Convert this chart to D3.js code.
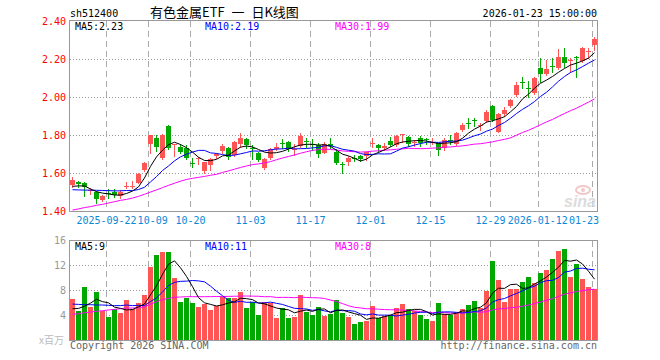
<!DOCTYPE html>
<html><head><meta charset="utf-8">
<script src="https://cdn.jsdelivr.net/npm/d3@7"></script>
<style>body{margin:0;background:#fff}svg{display:block}</style>
</head><body>
<svg id="c" width="660" height="360"></svg>
<script>
const dates = [
"2025-09-12","2025-09-15","2025-09-16","2025-09-17","2025-09-18","2025-09-19","2025-09-22","2025-09-23","2025-09-24","2025-09-25","2025-09-26","2025-09-29","2025-09-30",
"2025-10-09","2025-10-10","2025-10-13","2025-10-14","2025-10-15","2025-10-16","2025-10-17","2025-10-20","2025-10-21","2025-10-22","2025-10-23","2025-10-24","2025-10-27","2025-10-28","2025-10-29","2025-10-30","2025-10-31",
"2025-11-03","2025-11-04","2025-11-05","2025-11-06","2025-11-07","2025-11-10","2025-11-11","2025-11-12","2025-11-13","2025-11-14","2025-11-17","2025-11-18","2025-11-19","2025-11-20","2025-11-21","2025-11-24","2025-11-25","2025-11-26","2025-11-27","2025-11-28",
"2025-12-01","2025-12-02","2025-12-03","2025-12-04","2025-12-05","2025-12-08","2025-12-09","2025-12-10","2025-12-11","2025-12-12","2025-12-15","2025-12-16","2025-12-17","2025-12-18","2025-12-19","2025-12-22","2025-12-23","2025-12-24","2025-12-25","2025-12-26","2025-12-29","2025-12-30","2025-12-31",
"2026-01-05","2026-01-06","2026-01-07","2026-01-08","2026-01-09","2026-01-12","2026-01-13","2026-01-14","2026-01-15","2026-01-16","2026-01-19","2026-01-20","2026-01-21","2026-01-22","2026-01-23"];

const open  = [1.535,1.553,1.549,1.507,1.502,1.458,1.493,1.498,1.477,1.531,1.530,1.549,1.616,1.754,1.786,1.677,1.849,1.745,1.739,1.733,1.653,1.675,1.611,1.642,1.691,1.716,1.730,1.695,1.751,1.779,1.733,1.707,1.628,1.677,1.726,1.757,1.761,1.722,1.744,1.766,1.753,1.747,1.707,1.754,1.712,1.647,1.660,1.679,1.689,1.689,1.752,1.747,1.730,1.767,1.746,1.800,1.788,1.756,1.782,1.779,1.758,1.756,1.730,1.772,1.753,1.826,1.863,1.881,1.847,1.874,1.953,1.818,1.909,1.954,2.011,2.079,2.047,2.019,2.154,2.119,2.161,2.151,2.211,2.189,2.209,2.189,2.240,2.274];
const high  = [1.580,1.560,1.555,1.523,1.505,1.482,1.514,1.514,1.509,1.551,1.560,1.598,1.660,1.800,1.800,1.804,1.853,1.755,1.751,1.747,1.677,1.683,1.660,1.677,1.707,1.753,1.735,1.768,1.810,1.786,1.745,1.712,1.680,1.733,1.756,1.779,1.768,1.751,1.809,1.786,1.777,1.756,1.761,1.786,1.725,1.660,1.689,1.695,1.695,1.712,1.782,1.751,1.760,1.788,1.800,1.805,1.795,1.774,1.795,1.786,1.782,1.760,1.782,1.800,1.814,1.861,1.891,1.888,1.861,1.932,1.958,1.918,1.949,1.989,2.077,2.104,2.084,2.107,2.204,2.195,2.204,2.253,2.256,2.207,2.216,2.265,2.256,2.318];
const low   = [1.528,1.528,1.479,1.488,1.440,1.455,1.467,1.475,1.470,1.519,1.520,1.546,1.612,1.707,1.718,1.674,1.726,1.691,1.703,1.672,1.633,1.645,1.598,1.616,1.677,1.707,1.674,1.691,1.739,1.733,1.672,1.663,1.621,1.672,1.721,1.730,1.718,1.695,1.739,1.739,1.721,1.686,1.703,1.730,1.646,1.602,1.642,1.665,1.665,1.668,1.739,1.712,1.721,1.742,1.742,1.765,1.742,1.744,1.744,1.754,1.751,1.695,1.721,1.751,1.747,1.821,1.839,1.849,1.826,1.870,1.874,1.814,1.902,1.949,2.005,2.049,2.002,2.014,2.077,2.116,2.133,2.147,2.160,2.133,2.107,2.186,2.205,2.247];
const close = [1.561,1.543,1.525,1.512,1.463,1.479,1.489,1.484,1.502,1.534,1.534,1.595,1.654,1.800,1.737,1.800,1.730,1.752,1.710,1.677,1.649,1.679,1.656,1.674,1.698,1.742,1.686,1.765,1.786,1.747,1.726,1.668,1.674,1.726,1.739,1.752,1.725,1.726,1.795,1.763,1.749,1.700,1.751,1.742,1.651,1.644,1.677,1.675,1.672,1.712,1.756,1.730,1.744,1.746,1.795,1.803,1.751,1.761,1.756,1.775,1.761,1.721,1.774,1.768,1.812,1.853,1.859,1.877,1.851,1.919,1.879,1.911,1.932,1.984,2.063,2.075,2.044,2.098,2.121,2.146,2.158,2.209,2.181,2.193,2.205,2.260,2.244,2.304];
const volume = [6.56,4.64,8.48,5.28,7.68,4.64,3.68,5.0,4.32,6.4,4.96,5.92,7.2,11.68,13.6,14.08,14.08,9.92,6.08,6.72,5.92,5.28,5.76,4.8,5.44,6.88,6.72,6.7,7.68,5.12,6.08,4.0,6.08,5.92,3.52,5.12,3.52,3.68,7.2,4.48,4.0,5.28,3.9,4.16,6.4,4.32,3.68,2.56,2.88,3.04,5.44,3.52,3.84,4.0,5.12,5.76,4.96,4.64,4.0,3.36,3.04,5.92,4.16,4.0,4.32,4.96,5.6,6.24,5.12,7.84,12.64,9.6,6.08,8.16,8.16,9.28,10.08,9.12,10.72,11.2,12.96,14.24,14.56,10.08,12.16,9.76,8.48,8.16];

const ma5  = [1.530,1.532,1.532,1.516,1.502,1.494,1.490,1.484,1.484,1.492,1.505,1.527,1.574,1.635,1.685,1.720,1.749,1.762,1.750,1.733,1.710,1.683,
1.666,1.665,1.672,1.690,1.694,1.716,1.736,1.742,1.737,1.724,1.710,1.705,1.707,1.714,1.726,1.738,1.747,1.751,1.751,1.747,1.749,
1.740,1.720,1.699,1.690,1.677,1.663,1.673,1.695,1.708,1.722,1.737,1.754,1.763,1.767,1.770,1.771,1.768,1.761,1.755,1.757,1.759,1.765,
1.783,1.810,1.831,1.847,1.868,1.875,1.885,1.896,1.922,1.950,1.990,2.015,2.046,2.072,2.089,2.108,2.130,2.150,2.168,2.178,2.190,2.205,2.233];
const ma10 = [1.512,1.511,1.510,1.510,1.509,1.508,1.507,1.506,1.506,
1.508,1.507,1.513,1.525,1.553,1.581,1.613,1.637,1.664,1.685,1.699,1.710,1.719,1.719,1.706,1.703,1.697,1.692,1.694,1.701,1.708,
1.716,1.715,1.717,1.722,1.726,1.727,1.731,1.727,1.728,1.729,1.732,1.735,1.743,1.744,1.735,1.725,1.720,1.715,1.702,1.697,
1.698,1.701,1.700,1.701,1.715,1.731,1.738,1.747,1.755,1.762,1.762,1.761,1.764,1.767,1.768,1.773,1.784,1.796,1.805,1.820,
1.831,1.850,1.866,1.888,1.913,1.935,1.954,1.976,2.003,2.025,2.053,2.083,2.108,2.129,2.143,2.160,2.178,2.195];
const ma30 = [1.405,1.411,1.418,1.423,1.430,1.435,1.442,1.449,1.456,1.461,1.468,1.477,1.488,1.500,1.511,1.523,1.535,1.546,1.557,1.566,1.572,1.577,1.582,1.588,1.593,1.603,1.611,1.620,1.629,
1.637,1.644,1.648,1.653,1.660,1.670,1.679,1.687,1.695,1.704,1.712,1.719,1.723,1.726,1.724,1.721,1.716,1.714,1.712,1.710,1.712,
1.715,1.717,1.720,1.722,1.725,1.727,1.730,1.729,1.728,1.729,1.731,1.732,1.736,1.737,1.740,1.743,1.747,1.752,1.754,1.759,
1.764,1.771,1.777,1.785,1.799,1.813,1.825,1.839,1.854,1.869,1.882,1.898,1.913,1.928,1.941,1.957,1.973,1.990];

const vma5 = [5.0,5.05,5.4,5.9,
6.53,6.14,5.95,5.26,5.06,4.81,4.87,5.32,5.76,7.23,
8.67,10.50,12.13,12.67,11.55,10.18,8.54,6.78,5.95,5.70,
5.44,5.63,5.92,6.11,6.68,6.62,6.46,5.92,5.79,5.44,
5.12,4.93,4.83,4.35,4.61,4.80,4.58,4.93,4.97,4.36,
4.75,4.81,4.49,4.22,3.97,3.30,3.52,3.49,3.74,3.97,
4.38,4.45,4.74,4.90,4.90,4.54,4.00,4.19,4.10,4.10,
4.29,4.67,4.61,5.02,5.25,5.95,7.49,8.29,8.26,8.86,
8.93,8.26,8.35,8.96,9.47,10.08,10.82,11.65,12.74,12.61,
12.80,12.16,11.01,9.73];
const vma10 = [5.75,5.7,5.65,5.65,5.6,5.6,5.55,5.5,5.5,
5.6,5.5,5.55,5.5,6.15,6.74,7.68,8.72,9.22,9.39,
9.42,9.52,9.46,9.31,8.62,7.81,7.09,6.35,6.03,6.19,
6.03,6.05,5.92,5.95,6.06,5.87,5.69,5.37,5.07,5.02,
4.96,4.75,4.88,4.66,4.49,4.77,4.69,4.71,4.60,4.17,
4.02,4.17,3.99,3.98,3.97,3.84,3.98,4.11,4.32,4.43,
4.46,4.22,4.46,4.50,4.50,4.42,4.34,4.40,4.56,4.67,
5.12,6.08,6.45,6.64,7.06,7.44,7.87,8.32,8.61,9.17,
9.50,9.54,10.00,10.85,11.04,11.44,11.49,11.33,11.23];
const vma30 = [4.11,4.21,4.37,4.48,4.59,4.69,4.80,4.91,5.01,5.12,5.12,5.17,5.33,5.71,6.13,6.45,6.67,6.83,6.88,6.93,6.93,6.93,6.93,6.94,6.95,6.96,6.98,7.00,7.02,
7.04,7.02,7.00,6.92,6.94,6.81,6.82,6.82,6.77,6.87,
6.80,6.77,6.75,6.64,6.39,6.15,5.83,5.48,5.23,5.13,
5.00,4.99,4.93,4.87,4.84,4.83,4.79,4.73,4.66,4.54,
4.48,4.38,4.44,4.38,4.32,4.34,4.34,4.41,4.49,4.42,
4.54,4.82,4.97,5.04,5.17,5.23,5.40,5.61,5.83,6.09,
6.36,6.61,6.97,7.33,7.53,7.77,7.90,8.02,8.13];

const priceTicks = [1.40,1.60,1.80,2.00,2.20,2.40];
const volTicks = [4,8,12,16];
const dateTicks = ["2025-09-22","2025-10-09","2025-10-20","2025-11-03","2025-11-17","2025-12-01","2025-12-15","2025-12-29","2026-01-12","2026-01-23"];
const dateTickLabels = ["2025-09-22","10-09","10-20","11-03","11-17","12-01","12-15","12-29","2026-01-12","01-23"];
const priceLegend = ["MA5:2.23","MA10:2.19","MA30:1.99"];
const volLegend = ["MA5:9","MA10:11","MA30:8"];
const symbol = "sh512400";
const title = "有色金属ETF 一 日K线图";
const stamp = "2026-01-23 15:00:00";
const unitLabel = "x百万";
const copyright = "Copyright 2026 SINA.COM";
const site = "http://finance.sina.com.cn";

// ---------- drawing ----------
const svg = d3.select("#c");
const L = 70, R = 597;
const PT = 21, PB = 211, VT = 240, VB = 340;
const mono = "'DejaVu Sans Mono', monospace";
const UP = "#ff5555", DOWN = "#00a800";
const GRID = "#aaaaaa", FRAME = "#999999";
const maColors = ["#000000", "#0000ff", "#ff00ff"];

const x = d3.scaleBand().domain(dates).range([L, R]).paddingInner(1/6).paddingOuter(0).align(0);
const bw = x.bandwidth();
const yP = d3.scaleLinear().domain([1.40, 2.40]).range([PB, PT]);
const yV = d3.scaleLinear().domain([0, 16]).range([VB, VT]);
const idx = d3.range(dates.length);
const isUp = i => close[i] >= open[i];

const defs = svg.append("defs");
defs.append("clipPath").attr("id","cp").append("rect").attr("x",L).attr("y",PT-1).attr("width",R-L).attr("height",PB-PT+1);
defs.append("clipPath").attr("id","cv").append("rect").attr("x",L).attr("y",VT).attr("width",R-L).attr("height",VB-VT);

// grids
const grid = svg.append("g").attr("shape-rendering","crispEdges");
[[PT-0.5, PB], [VT+0.5, VB]].forEach(([t,b]) => {
  grid.selectAll(null).data(dateTicks).join("line")
    .attr("x1", d => x(d)+0.5).attr("x2", d => x(d)+0.5)
    .attr("y1", t).attr("y2", b)
    .attr("stroke", GRID).attr("stroke-dasharray","6,4");
});
grid.selectAll(null).data(priceTicks.filter(v => v > 1.41 && v < 2.39)).join("line")
  .attr("x1", L).attr("x2", R)
  .attr("y1", v => Math.round(yP(v))+0.5).attr("y2", v => Math.round(yP(v))+0.5)
  .attr("stroke", "#999").attr("stroke-dasharray","1,2");
grid.selectAll(null).data(volTicks.filter(v => v < 16)).join("line")
  .attr("x1", L).attr("x2", R)
  .attr("y1", v => Math.round(yV(v))+0.5).attr("y2", v => Math.round(yV(v))+0.5)
  .attr("stroke", "#999").attr("stroke-dasharray","1,2");

// watermark
const wm = svg.append("g");
wm.append("ellipse").attr("cx",583).attr("cy",190).attr("rx",7).attr("ry",4).attr("fill","none").attr("stroke","#f2c8c8").attr("stroke-width",2);
wm.append("circle").attr("cx",583).attr("cy",190).attr("r",2).attr("fill","#f2c8c8");
wm.append("text").attr("x",564).attr("y",207).text("sina")
  .attr("font-family","'Liberation Sans', sans-serif").attr("font-weight","bold").attr("font-style","italic")
  .attr("font-size",16).attr("fill","#dcdcdc");

// frames
svg.append("rect").attr("x",L-0.5).attr("y",PT-0.5).attr("width",R-L+1).attr("height",PB-PT+1)
  .attr("fill","none").attr("stroke",FRAME).attr("shape-rendering","crispEdges");
svg.append("rect").attr("x",L-0.5).attr("y",VT+0.5).attr("width",R-L+1).attr("height",VB-VT)
  .attr("fill","none").attr("stroke",FRAME).attr("shape-rendering","crispEdges");

// candles
const gc = svg.append("g").attr("shape-rendering","crispEdges");
gc.selectAll(".wick").data(idx).join("rect").attr("class","wick")
  .attr("x", i => x(dates[i]) + Math.floor(bw/2))
  .attr("y", i => Math.round(yP(high[i])))
  .attr("width", 1)
  .attr("height", i => Math.max(1, Math.round(yP(low[i])) - Math.round(yP(high[i])) + 1))
  .attr("fill", i => isUp(i) ? UP : DOWN);
gc.selectAll(".body").data(idx).join("rect").attr("class","body")
  .attr("x", i => x(dates[i]))
  .attr("y", i => Math.round(yP(Math.max(open[i], close[i]))))
  .attr("width", bw)
  .attr("height", i => Math.max(1, Math.round(yP(Math.min(open[i], close[i]))) - Math.round(yP(Math.max(open[i], close[i])))))
  .attr("fill", i => isUp(i) ? UP : DOWN);

// volume bars
const gv = svg.append("g").attr("shape-rendering","crispEdges");
gv.selectAll("rect").data(idx).join("rect")
  .attr("x", i => x(dates[i]))
  .attr("y", i => Math.round(yV(volume[i])))
  .attr("width", bw)
  .attr("height", i => VB - Math.round(yV(volume[i])))
  .attr("fill", i => isUp(i) ? UP : DOWN);

// MA lines
const cx = i => x(dates[i]) + bw/2;
const lineP = d3.line().x((d,i) => cx(i)).y(d => yP(d));
const lineV = d3.line().x((d,i) => cx(i)).y(d => yV(d));
const gl = svg.append("g").attr("clip-path","url(#cp)");
[ma30, ma10, ma5].forEach((s,k) => gl.append("path").attr("d", lineP(s)).attr("fill","none")
  .attr("stroke", maColors[2-k]).attr("stroke-width",1));
const glv = svg.append("g").attr("clip-path","url(#cv)");
[vma30, vma10, vma5].forEach((s,k) => glv.append("path").attr("d", lineV(s)).attr("fill","none")
  .attr("stroke", maColors[2-k]).attr("stroke-width",1));

// texts
const T = (t, xx, yy, fill, anchor="start", size=10, fam=mono) => svg.append("text")
  .attr("x", xx).attr("y", yy).attr("fill", fill).attr("text-anchor", anchor)
  .attr("font-family", fam).attr("font-size", size).text(t);

T(symbol, L, 17, "#000");
T(title, 150, 17, "#000", "start", 13, "'Noto Sans CJK SC', sans-serif").attr("word-spacing", 4);
T(stamp, R, 17, "#000", "end");

priceLegend.forEach((t,k) => T(t, [75,205,335][k], 29.5, maColors[k]));
volLegend.forEach((t,k) => T(t, [75,205,335][k], 250, maColors[k]));

priceTicks.forEach(v => T(v.toFixed(2), 66, Math.round(yP(v)) + 4, "#ff0000", "end"));
volTicks.forEach(v => T(String(v), 66, Math.round(yV(v)) + 4, "#999999", "end"));
T(unitLabel, 64, 344, "#bbbbbb", "end", 10, "'Noto Sans CJK SC', sans-serif");

// date labels: centred on gridline, pushed apart so they never overlap
const gx = svg.append("g");
const labs = dateTicks.map((d,k) => gx.append("text").attr("y",224).attr("fill","#0a88d8")
  .attr("font-family", mono).attr("font-size",10).text(dateTickLabels[k]));
const ws = labs.map(t => t.node().getComputedTextLength());
const st = dateTicks.map((d,k) => x(d) + 0.5 - ws[k]/2);
for (let k = 1; k < st.length; k++) if (st[k] < st[k-1] + ws[k-1] + 1) st[k] = st[k-1] + ws[k-1] + 1;
const last = st.length - 1;
if (st[last] + ws[last] > R + 2) st[last] = R + 2 - ws[last];
for (let k = last - 1; k >= 0; k--) if (st[k] + ws[k] + 1 > st[k+1]) st[k] = st[k+1] - ws[k] - 1;
labs.forEach((t,k) => t.attr("x", st[k]));

T(copyright, L, 349, "#666666");
T(site, R, 349, "#666666", "end");
</script>
</body></html>
